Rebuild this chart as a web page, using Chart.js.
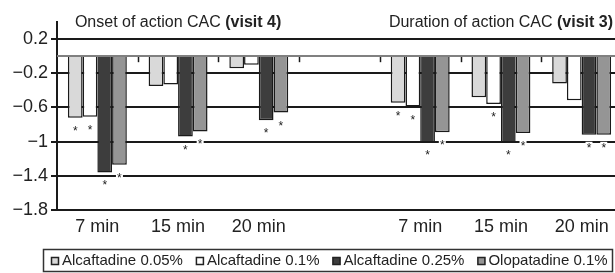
<!DOCTYPE html>
<html>
<head>
<meta charset="utf-8">
<script src="https://cdn.jsdelivr.net/npm/chart.js@4.4.0/dist/chart.umd.min.js"></script>
<style>
  html, body { margin: 0; padding: 0; background: #fff; overflow: hidden; }
  #contenedor { width: 625px; height: 273px; }
</style>
</head>
<body>
<div id="contenedor"><canvas id="grafico" width="625" height="273"></canvas></div>
<script>
// categorias (la cuarta es el hueco entre los dos paneles)
const categorias = ['7 min', '15 min', '20 min', '', '7 min', '15 min', '20 min']
const series = ['Alcaftadine 0.05%', 'Alcaftadine 0.1%', 'Alcaftadine 0.25%', 'Olopatadine 0.1%']

const alcaftadine005 = [-0.72, -0.35, -0.14, null, -0.545, -0.48, -0.32]
const alcaftadine01 = [-0.71, -0.33, -0.10, null, -0.59, -0.56, -0.515]
const alcaftadine025 = [-1.36, -0.94, -0.75, null, -1.01, -1.01, -0.92]
const olopatadine01 = [-1.27, -0.88, -0.66, null, -0.89, -0.90, -0.92]

// asteriscos de significancia
const sig005 = [1, 0, 0, 0, 1, 0, 0]
const sig01 = [1, 0, 0, 0, 1, 1, 0]
const sig025 = [1, 1, 1, 0, 1, 1, 1]
const sigOlo = [1, 1, 1, 0, 1, 1, 1]

const titulos = ['Onset of action CAC ', 'Duration of action CAC ']
const titulosNegrita = ['(visit 4)', '(visit 3)']
const titulosCategoria = [1, 5]

const yTicks = [-1.8, -1.4, -1, -0.6, -0.2, 0.2]

const colores = ['#d9d9d9', '#ffffff', '#3d3d3d', '#959595']
const fuente = "'Liberation Sans', Arial, sans-serif"

const valores = [alcaftadine005, alcaftadine01, alcaftadine025, olopatadine01]
const significancia = [sig005, sig01, sig025, sigOlo]

// linea del cero, marcas del eje x, asteriscos, titulos y leyenda
const extras = {
  id: 'extras',
  beforeDatasetsDraw(chart) {
    const { ctx, scales } = chart
    const y0 = scales.y.getPixelForValue(0)
    ctx.save()
    ctx.strokeStyle = '#1a1a1a'
    ctx.lineWidth = 1.5
    for (let k = 1; k < categorias.length; k++) {
      const x = Math.round((scales.x.getPixelForValue(k - 1) + scales.x.getPixelForValue(k)) / 2) + 0.5
      ctx.beginPath()
      ctx.moveTo(x, y0)
      ctx.lineTo(x, y0 + 6)
      ctx.stroke()
    }
    ctx.restore()
  },
  afterDatasetsDraw(chart) {
    const { ctx, chartArea, scales } = chart
    const y0 = Math.round(scales.y.getPixelForValue(0))
    ctx.save()
    ctx.strokeStyle = '#808080'
    ctx.lineWidth = 2
    ctx.beginPath()
    ctx.moveTo(chartArea.left, y0)
    ctx.lineTo(chartArea.right, y0)
    ctx.stroke()

    // asteriscos
    ctx.font = '12px ' + fuente
    ctx.textAlign = 'center'
    ctx.textBaseline = 'alphabetic'
    chart.data.datasets.forEach((ds, i) => {
      const meta = chart.getDatasetMeta(i)
      meta.data.forEach((bar, j) => {
        if (!significancia[i][j]) return
        const cx = bar.x
        const cy = bar.y + 10
        ctx.fillStyle = '#fff'
        ctx.fillRect(cx - 3.5, cy - 3, 7, 6)
        ctx.fillStyle = '#222'
        ctx.fillText('*', cx, cy + 7)
      })
    })
    ctx.restore()
  },
  afterDraw(chart) {
    const { ctx, scales } = chart
    ctx.save()
    ctx.fillStyle = '#222'
    ctx.textBaseline = 'alphabetic'
    ctx.textAlign = 'left'
    // titulos de los paneles
    titulos.forEach((t, i) => {
      ctx.font = '16px ' + fuente
      const w1 = ctx.measureText(t).width
      ctx.font = 'bold 16px ' + fuente
      const w2 = ctx.measureText(titulosNegrita[i]).width
      const cx = scales.x.getPixelForValue(titulosCategoria[i])
      const x = cx - (w1 + w2) / 2
      ctx.font = '16px ' + fuente
      ctx.fillText(t, x, 27)
      ctx.font = 'bold 16px ' + fuente
      ctx.fillText(titulosNegrita[i], x + w1, 27)
    })

    // leyenda con marco
    ctx.strokeStyle = '#333'
    ctx.lineWidth = 1.5
    ctx.strokeRect(43.5, 249.5, 569, 22)
    ctx.font = '15px ' + fuente
    ctx.textBaseline = 'middle'
    let x = 51
    const yc = 261
    chart.data.datasets.forEach((ds, i) => {
      ctx.fillStyle = ds.backgroundColor
      ctx.fillRect(x, yc - 4, 8, 8)
      ctx.strokeStyle = '#222'
      ctx.lineWidth = 1.5
      ctx.strokeRect(x + 0.5, yc - 3.5, 7, 7)
      ctx.fillStyle = '#222'
      ctx.fillText(ds.label, x + 11, yc)
      x += 11 + ctx.measureText(ds.label).width + 13
    })
    ctx.restore()
  }
}

const grafico = new Chart(document.getElementById('grafico'), {
  type: 'bar',
  data: {
    labels: categorias,
    datasets: series.map((s, i) => ({
      label: s,
      data: valores[i],
      backgroundColor: colores[i],
      borderColor: '#1a1a1a',
      borderWidth: 1.5,
      categoryPercentage: 0.73,
      barPercentage: 1,
    })),
  },
  options: {
    responsive: false,
    animation: false,
    layout: {
      padding: { top: 22, right: 3, left: 0, bottom: 29 },
    },
    plugins: {
      legend: { display: false },
      tooltip: { enabled: false },
    },
    scales: {
      x: {
        grid: { display: false, drawTicks: false },
        border: { display: false },
        ticks: {
          color: '#222',
          font: { size: 18, family: fuente },
          padding: 6,
          maxRotation: 0,
          autoSkip: false,
        },
        afterFit: (s) => { s.height = 34 },
      },
      y: {
        min: -1.8,
        max: 0.4,
        afterBuildTicks: (s) => { s.ticks = yTicks.map((v) => ({ value: v })) },
        grid: { color: '#1a1a1a', lineWidth: 2, tickLength: 6, tickColor: '#1a1a1a' },
        border: { display: true, color: '#1a1a1a', width: 2 },
        ticks: {
          color: '#222',
          font: { size: 18, family: fuente },
          padding: 3,
          callback: (v) => String(v).replace('-', '\u2212'),
        },
        afterFit: (s) => { s.width = 57 },
      },
    },
  },
  plugins: [extras],
})
</script>
</body>
</html>
